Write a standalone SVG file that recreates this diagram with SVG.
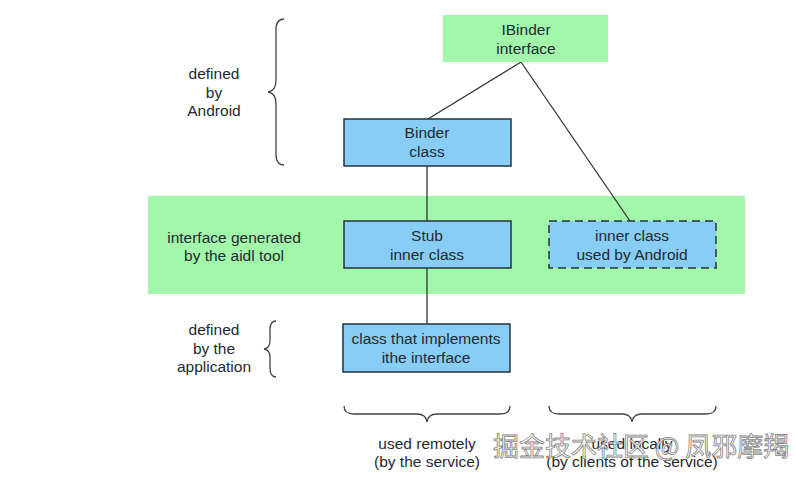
<svg xmlns="http://www.w3.org/2000/svg" width="796" height="477" viewBox="0 0 796 477">
<style>
text{font-family:"Liberation Sans",Arial,sans-serif;font-size:15.5px;fill:#1f2a33;text-anchor:middle}
.box{fill:#88cdf6;stroke:#26333d;stroke-width:1.5}
.dash{stroke-dasharray:8,5}
.green{fill:#a2f7aa}
.ln{fill:none;stroke:#333;stroke-width:1.3}
.br{fill:none;stroke:#444;stroke-width:1.3}
.wm{font-family:"Noto Sans CJK SC",sans-serif;font-size:26px;fill:#fff;stroke:#777;stroke-width:0.8;text-anchor:start;opacity:0.9}
</style>
<rect width="796" height="477" fill="#fff"/>
<rect id="band" class="green" x="148" y="196" width="597" height="98"/>
<g id="connectors">
<line class="ln" x1="521" y1="62" x2="428" y2="119"/>
<line class="ln" x1="521" y1="62" x2="630" y2="221"/>
<line class="ln" x1="427" y1="166" x2="427" y2="221"/>
<line class="ln" x1="427" y1="268" x2="427" y2="324"/>
</g>
<g id="ibinder"><rect class="green" x="443" y="15" width="165" height="47"/><text x="526" y="35">IBinder</text><text x="526" y="54">interface</text></g>
<g id="binder"><rect class="box" x="344" y="119" width="167" height="47"/><text x="427" y="138">Binder</text><text x="427" y="157">class</text></g>
<g id="stub"><rect class="box" x="344" y="221" width="167" height="47"/><text x="427" y="241">Stub</text><text x="427" y="260">inner class</text></g>
<g id="proxy"><rect class="box dash" x="549" y="221" width="167" height="47"/><text x="632" y="241">inner class</text><text x="632" y="260">used by Android</text></g>
<g id="impl"><rect class="box" x="343" y="324" width="167" height="48"/><text x="426" y="344">class that implements</text><text x="426" y="363">ithe interface</text></g>
<g id="labels">
<text x="214" y="79">defined</text><text x="214" y="98">by</text><text x="214" y="116">Android</text>
<text x="234" y="243">interface generated</text><text x="234" y="261">by the aidl tool</text>
<text x="214" y="335">defined</text><text x="214" y="354">by the</text><text x="214" y="372">application</text>
<text x="427" y="449">used remotely</text><text x="427" y="467">(by the service)</text>
<text x="632" y="449">used locally</text><text x="632" y="467">(by clients of the service)</text>
</g>
<g id="braces">
<path class="br" d="M284,19 Q276,19 276,30 L276,80 Q276,91 268,92 Q276,93 276,104 L276,154 Q276,165 284,165"/>
<path class="br" d="M276,321 Q270,321 270,330 L270,341 Q270,348 264,349 Q270,350 270,357 L270,368 Q270,377 276,377"/>
<path class="br" d="M344,406 Q344,414 354,414 L417,414 Q426,414 427,422 Q428,414 437,414 L500,414 Q510,414 510,406"/>
<path class="br" d="M549,406 Q549,414 559,414 L622,414 Q631,414 632,422 Q633,414 642,414 L706,414 Q716,414 716,406"/>
</g>
<text class="wm" x="493" y="456">掘金技术社区 @ 凤邪摩羯</text>
</svg>
